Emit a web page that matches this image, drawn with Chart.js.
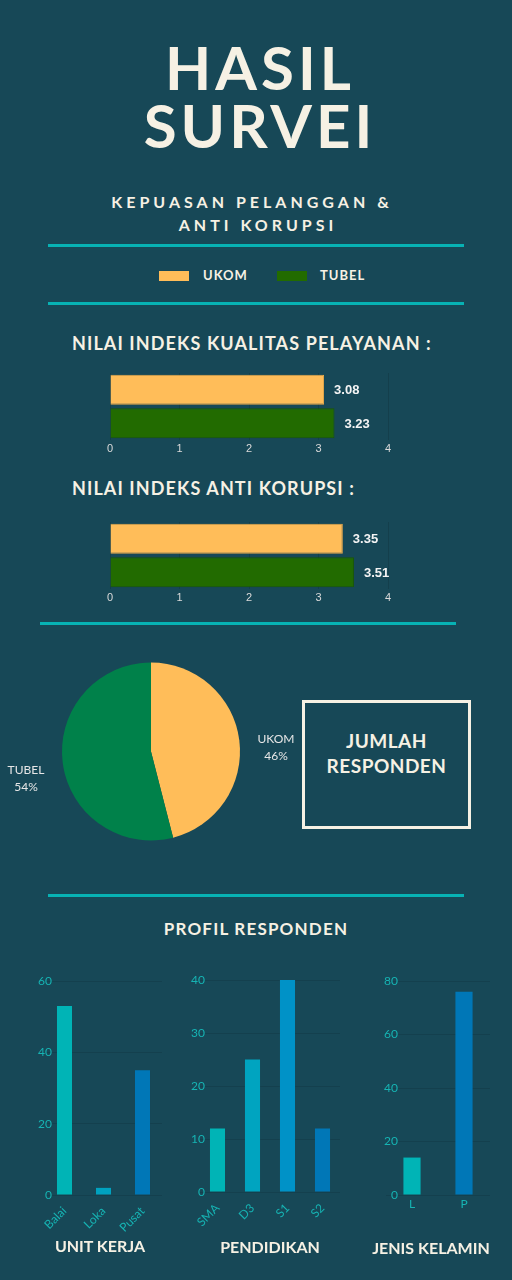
<!DOCTYPE html>
<html>
<head>
<meta charset="utf-8">
<script src="https://cdn.jsdelivr.net/npm/chart.js@4.4.1/dist/chart.umd.min.js"></script>
<style>
  html, body { margin:0; padding:0; }
  body { width:512px; height:1280px; background:#174857; position:relative; overflow:hidden; font-family:'Lato','DejaVu Sans',sans-serif; color:#F6F1E4; }
  .t { position:absolute; left:0; width:512px; text-align:center; font-weight:700; white-space:nowrap; line-height:1; }
  .rule { position:absolute; height:3px; background:#07B2B4; }
  .abs { position:absolute; }
  canvas { display:block; }
</style>
</head>
<body>
<div class="t" style="top:37px;font-size:60px;letter-spacing:4px;padding-left:4px;">HASIL</div>
<div class="t" style="top:95px;font-size:60px;letter-spacing:4px;padding-left:4px;">SURVEI</div>
<div class="t" style="left:-8px;top:194px;font-size:16px;letter-spacing:4px;padding-left:4px;">KEPUASAN PELANGGAN &amp;</div>
<div class="t" style="top:217px;font-size:16px;letter-spacing:4px;padding-left:2px;">ANTI KORUPSI</div>
<div class="rule" style="left:48px;width:416px;top:244px;"></div>

<div class="abs" style="left:159px;top:271px;width:30px;height:10px;background:#FFBD59;"></div>
<div class="abs" id="lg0" style="left:203px;top:269px;font-size:13px;font-weight:700;line-height:1;letter-spacing:1px;"></div>
<div class="abs" style="left:277px;top:271px;width:30px;height:10px;background:#226B00;"></div>
<div class="abs" id="lg1" style="left:320px;top:269px;font-size:13px;font-weight:700;line-height:1;letter-spacing:1px;"></div>
<div class="rule" style="left:48px;width:416px;top:302px;"></div>

<div class="t" style="left:72px;width:auto;text-align:left;top:334px;font-size:18px;letter-spacing:1.1px;">NILAI INDEKS KUALITAS PELAYANAN :</div>
<div class="abs" style="left:100px;top:368px;"><canvas id="cKualitas" width="300" height="92"></canvas></div>
<div class="t" style="left:72px;width:auto;text-align:left;top:479px;font-size:18px;letter-spacing:1.1px;">NILAI INDEKS ANTI KORUPSI :</div>
<div class="abs" style="left:100px;top:517px;"><canvas id="cAnti" width="300" height="92"></canvas></div>
<div class="rule" style="left:40px;width:416px;top:622px;"></div>

<div class="abs" style="left:0px;top:640px;"><canvas id="cPie" width="300" height="220"></canvas></div>
<div class="abs" style="left:302px;top:700px;width:163px;height:123px;border:3px solid #F6F1E4;"></div>
<div class="t" style="left:302px;width:169px;top:731px;font-size:19px;letter-spacing:0.5px;">JUMLAH</div>
<div class="t" style="left:302px;width:169px;top:756px;font-size:19px;letter-spacing:0.5px;">RESPONDEN</div>
<div class="rule" style="left:48px;width:416px;top:894px;"></div>

<div class="t" style="top:920px;font-size:17px;letter-spacing:1.2px;">PROFIL RESPONDEN</div>
<div class="abs" style="left:0px;top:960px;"><canvas id="cUnit" width="180" height="280"></canvas></div>
<div class="abs" style="left:180px;top:960px;"><canvas id="cPend" width="180" height="280"></canvas></div>
<div class="abs" style="left:360px;top:960px;"><canvas id="cKel" width="152" height="280"></canvas></div>
<div class="t" style="left:0;width:200px;top:1238px;font-size:16px;">UNIT KERJA</div>
<div class="t" style="left:170px;width:200px;top:1239px;font-size:16px;">PENDIDIKAN</div>
<div class="t" style="left:331px;width:200px;top:1240px;font-size:16px;">JENIS KELAMIN</div>

<script>
// ---- data ----
const seriesLabels = ['UKOM', 'TUBEL'];
const seriesColors = ['#FFBD59', '#226B00'];
const kualitasValues = [3.08, 3.23];
const antiKorupsiValues = [3.35, 3.51];
const indexMax = 4;

const respondenLabels = ['UKOM', 'TUBEL'];
const respondenPercent = [46, 54];
const respondenColors = ['#FFBD59', '#00814A'];

const unitKerjaLabels = ['Balai', 'Loka', 'Pusat'];
const unitKerjaValues = [53, 2, 35];
const unitKerjaColors = ['#00B4B6', '#00A2C0', '#0077B7'];

const pendidikanLabels = ['SMA', 'D3', 'S1', 'S2'];
const pendidikanValues = [12, 25, 40, 12];
const pendidikanColors = ['#00B4B6', '#00A4C0', '#0092C7', '#0077B7'];

const kelaminLabels = ['L', 'P'];
const kelaminValues = [14, 76];
const kelaminColors = ['#00B4B6', '#0077B7'];

document.getElementById('lg0').textContent = seriesLabels[0];
document.getElementById('lg1').textContent = seriesLabels[1];

Chart.defaults.animation = false;
Chart.defaults.plugins.legend.display = false;
Chart.defaults.plugins.tooltip.enabled = false;

const valueLabelPlugin = {
  id: 'valueLabels',
  afterDatasetsDraw(chart) {
    const ctx = chart.ctx;
    ctx.save();
    ctx.font = 'bold 13px "Liberation Sans", Arial, sans-serif';
    ctx.fillStyle = '#F4F4F4';
    ctx.textBaseline = 'middle';
    ctx.textAlign = 'left';
    chart.data.datasets.forEach((ds, i) => {
      chart.getDatasetMeta(i).data.forEach((el, j) => {
        ctx.fillText(ds.data[j].toFixed(2), el.x + 10, el.y + 1);
      });
    });
    ctx.restore();
  }
};

function makeIndexChart(id, values) {
  new Chart(document.getElementById(id), {
    type: 'bar',
    data: {
      labels: [''],
      datasets: seriesLabels.map((l, i) => ({
        label: l,
        data: [values[i]],
        backgroundColor: seriesColors[i],
        borderColor: i === 0 ? '#E9A94A' : '#1B5A00',
        borderWidth: 1,
        barPercentage: 0.9,
        categoryPercentage: 1
      }))
    },
    options: {
      indexAxis: 'y',
      responsive: false,
      layout: { padding: { left: 10, right: 12, top: 5, bottom: 0 } },
      scales: {
        x: {
          min: 0, max: indexMax,
          ticks: { stepSize: 1, color: '#DADADA', padding: 2, font: { size: 11, family: '"Liberation Sans", Arial, sans-serif' } },
          grid: { color: 'rgba(0,0,0,0.12)', drawTicks: false },
          border: { display: false },
          afterFit: s => { s.height = 20; }
        },
        y: { display: false }
      }
    },
    plugins: [valueLabelPlugin]
  });
}
makeIndexChart('cKualitas', kualitasValues);
makeIndexChart('cAnti', antiKorupsiValues);

const pieLabelPlugin = {
  id: 'pieLabels',
  afterDatasetsDraw(chart) {
    const ctx = chart.ctx;
    ctx.save();
    ctx.font = '12px Lato, "DejaVu Sans", sans-serif';
    ctx.fillStyle = '#E6E6E6';
    ctx.textAlign = 'center';
    ctx.textBaseline = 'middle';
    chart.getDatasetMeta(0).data.forEach((el, j) => {
      const mid = (el.startAngle + el.endAngle) / 2;
      const r = el.outerRadius + 37;
      const x = el.x + Math.cos(mid) * r;
      const y = el.y + Math.sin(mid) * r;
      ctx.fillText(chart.data.labels[j], x, y + 3);
      ctx.fillText(chart.data.datasets[0].data[j] + '%', x, y + 20);
    });
    ctx.restore();
  }
};

new Chart(document.getElementById('cPie'), {
  type: 'pie',
  data: {
    labels: respondenLabels,
    datasets: [{ data: respondenPercent, backgroundColor: respondenColors, borderWidth: 0 }]
  },
  options: {
    responsive: false,
    layout: { padding: { left: 62, right: 60, top: 22, bottom: 19 } }
  },
  plugins: [pieLabelPlugin]
});

function makeProfile(id, labels, values, colors, o) {
  new Chart(document.getElementById(id), {
    type: 'bar',
    data: {
      labels: labels,
      datasets: [{ data: values, backgroundColor: colors, barPercentage: o.barPct, categoryPercentage: 1 }]
    },
    options: {
      responsive: false,
      layout: { padding: { left: 0, right: o.padRight, top: o.padTop, bottom: 0 } },
      scales: {
        x: {
          grid: { display: false },
          border: { display: false },
          ticks: {
            color: '#16B3B3', padding: o.xPad, autoSkip: false,
            minRotation: o.rot, maxRotation: o.rot,
            font: { size: 12, family: 'Lato, sans-serif' }
          },
          afterFit: s => { s.height = o.xHeight; }
        },
        y: {
          min: 0, max: o.max,
          grid: { color: 'rgba(0,0,0,0.10)', drawTicks: false },
          border: { display: false },
          ticks: {
            stepSize: o.step, color: '#16B3B3', padding: o.tickPad,
            mirror: true, crossAlign: 'far',
            font: { size: 12, family: 'Lato, sans-serif' }
          },
          afterFit: s => { s.width = o.yWidth; }
        }
      }
    }
  });
}
makeProfile('cUnit', unitKerjaLabels, unitKerjaValues, unitKerjaColors,
  { max: 60, step: 20, barPct: 0.385, padRight: 18, padTop: 21, xHeight: 45, yWidth: 45, tickPad: -7, xPad: 1, rot: 45 });
makeProfile('cPend', pendidikanLabels, pendidikanValues, pendidikanColors,
  { max: 40, step: 10, barPct: 0.43, padRight: 20, padTop: 20, xHeight: 48, yWidth: 20, tickPad: -9, xPad: 1, rot: 45 });
makeProfile('cKel', kelaminLabels, kelaminValues, kelaminColors,
  { max: 80, step: 20, barPct: 0.33, padRight: 22, padTop: 21, xHeight: 45, yWidth: 26, tickPad: -2, xPad: -6, rot: 0 });
</script>
</body>
</html>
